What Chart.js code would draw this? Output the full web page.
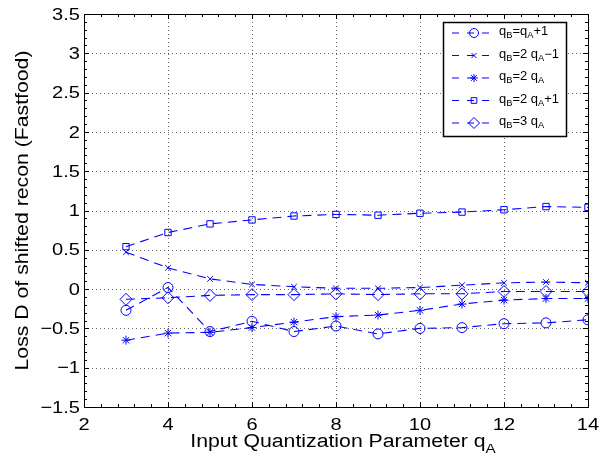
<!DOCTYPE html>
<html>
<head>
<meta charset="UTF-8">
<script src="https://cdn.jsdelivr.net/npm/chart.js"></script>
<style>
  body { margin: 0; background: #fff; }
</style>
</head>
<body>
<canvas id="c" width="612" height="459"></canvas>
<script>
const qA = [3, 4, 5, 6, 7, 8, 9, 10, 11, 12, 13, 14];
const plusOne    = [-0.27, 0.02, -0.54, -0.41, -0.54, -0.47, -0.57, -0.50, -0.49, -0.44, -0.43, -0.39];
const twoMinus   = [0.47, 0.27, 0.13, 0.06, 0.03, 0.01, 0.01, 0.02, 0.05, 0.08, 0.09, 0.08];
const twoTimes   = [-0.65, -0.56, -0.55, -0.49, -0.42, -0.35, -0.33, -0.27, -0.19, -0.14, -0.12, -0.12];
const twoPlus    = [0.54, 0.72, 0.83, 0.88, 0.93, 0.95, 0.94, 0.965, 0.98, 1.01, 1.05, 1.04];
const threeTimes = [-0.13, -0.11, -0.08, -0.07, -0.07, -0.06, -0.07, -0.06, -0.06, -0.03, -0.03, -0.03];
const yTicks = [-1.5, -1, -0.5, 0, 0.5, 1, 1.5, 2, 2.5, 3, 3.5];
const xTicks = [2, 4, 6, 8, 10, 12, 14];

// legend labels as [text, isSubscript] pieces
const labels = [
  [["q",0],["B",1],["=q",0],["A",1],["+1",0]],
  [["q",0],["B",1],["=2 q",0],["A",1],["\u22121",0]],
  [["q",0],["B",1],["=2 q",0],["A",1]],
  [["q",0],["B",1],["=2 q",0],["A",1],["+1",0]],
  [["q",0],["B",1],["=3 q",0],["A",1]]
];
const styles = ["circle", "crossRot", "star", "rect", "rectRot"];
const radii = [5, 4, 4.5, 4.5, 6];
const series = [plusOne, twoMinus, twoTimes, twoPlus, threeTimes];

const FONT = "'Liberation Sans', Arial, sans-serif";
const BLUE = "#0000ff";

// draw text pieces with subscripts, stretched by sx; align 0=left,0.5=center,1=right
function drawSub(ctx, parts, x, y, size, align, sx) {
  sx = sx || 1.18; // the reference text is a bit wide
  let w = 0;
  parts.forEach(([t, sub]) => {
    ctx.font = (sub ? size * 0.72 : size) + "px " + FONT;
    w += ctx.measureText(t).width;
  });
  ctx.save();
  ctx.translate(x, y);
  ctx.scale(sx, 1);
  let cx = -w * (align || 0);
  ctx.textAlign = "left";
  parts.forEach(([t, sub]) => {
    ctx.font = (sub ? size * 0.72 : size) + "px " + FONT;
    ctx.fillText(t, cx, sub ? size * 0.32 : 0);
    cx += ctx.measureText(t).width;
  });
  ctx.restore();
}

const extras = {
  id: "extras",
  beforeDatasetsDraw(chart) {
    const ctx = chart.ctx;
    const a = chart.chartArea;
    const xs = chart.scales.x, ys = chart.scales.y;
    ctx.save();
    ctx.strokeStyle = "rgba(0,0,0,0.6)";
    ctx.lineWidth = 1;
    ctx.setLineDash([1, 3]);
    ctx.beginPath();
    xTicks.forEach(v => {
      const px = Math.round(xs.getPixelForValue(v)) + 0.5;
      ctx.moveTo(px, a.bottom); ctx.lineTo(px, a.top);
    });
    yTicks.forEach(v => {
      const py = Math.round(ys.getPixelForValue(v)) + 0.5;
      ctx.moveTo(a.left, py); ctx.lineTo(a.right, py);
    });
    ctx.stroke();
    ctx.restore();
  },
  afterDraw(chart) {
    const ctx = chart.ctx;
    const a = chart.chartArea;
    const xs = chart.scales.x, ys = chart.scales.y;
    ctx.save();
    // box
    ctx.strokeStyle = "#000";
    ctx.lineWidth = 1;
    ctx.strokeRect(a.left + 0.5, a.top + 0.5, a.right - a.left, a.bottom - a.top);
    // inward ticks, major and minor
    ctx.beginPath();
    for (let v = 2; v <= 14.001; v += 0.4) {
      const major = Math.abs(v - Math.round(v / 2) * 2) < 0.01;
      const len = major ? 5 : 3;
      const px = Math.round(xs.getPixelForValue(v)) + 0.5;
      ctx.moveTo(px, a.bottom); ctx.lineTo(px, a.bottom - len);
      ctx.moveTo(px, a.top); ctx.lineTo(px, a.top + len);
    }
    for (let v = -1.5; v <= 3.501; v += 0.1) {
      const major = Math.abs(v * 2 - Math.round(v * 2)) < 0.01;
      const len = major ? 5 : 3;
      const py = Math.round(ys.getPixelForValue(v)) + 0.5;
      ctx.moveTo(a.left, py); ctx.lineTo(a.left + len, py);
      ctx.moveTo(a.right, py); ctx.lineTo(a.right - len, py);
    }
    ctx.stroke();

    // tick labels
    ctx.fillStyle = "#000";
    ctx.textBaseline = "alphabetic";
    xTicks.forEach(v => {
      drawSub(ctx, [[String(v), 0]], xs.getPixelForValue(v), 430, 17, 0.5);
    });
    ctx.textBaseline = "middle";
    yTicks.forEach(v => {
      drawSub(ctx, [[String(v).replace("-", "\u2212"), 0]], 80, ys.getPixelForValue(v) + 1, 17, 1);
    });

    // axis titles
    ctx.textBaseline = "alphabetic";
    drawSub(ctx, [["Input Quantization Parameter q",0],["A",1]], (a.left + a.right) / 2 + 7, 447, 18, 0.5);
    ctx.save();
    ctx.translate(28, (a.top + a.bottom) / 2);
    ctx.rotate(-Math.PI / 2);
    drawSub(ctx, [["Loss D of shifted recon (Fastfood)", 0]], 0, 0, 18, 0.5);
    ctx.restore();

    // legend
    const lx = 443, ly = 22, lw = 123, lh = 114;
    ctx.fillStyle = "#fff";
    ctx.fillRect(lx, ly, lw, lh);
    ctx.strokeStyle = "#000";
    ctx.lineWidth = 1.5;
    ctx.strokeRect(lx + 0.5, ly + 0.5, lw, lh);
    labels.forEach((parts, i) => {
      const y = 33 + i * 22.5;
      ctx.strokeStyle = BLUE;
      ctx.lineWidth = 1;
      ctx.setLineDash([7, 8]);
      ctx.beginPath();
      ctx.moveTo(452, y); ctx.lineTo(497, y);
      ctx.stroke();
      ctx.setLineDash([]);
      ctx.strokeStyle = BLUE;
      ctx.fillStyle = "rgba(0,0,0,0)";
      Chart.helpers.drawPoint(ctx, {
        pointStyle: styles[i], radius: radii[i] - 0.5, borderWidth: 1, rotation: 0
      }, 474, y);
      ctx.fillStyle = "#000";
      ctx.textBaseline = "middle";
      drawSub(ctx, parts, 499, y - 1, 12, 0, 1.08);
    });
    ctx.restore();
  }
};

new Chart(document.getElementById("c"), {
  type: "line",
  data: {
    datasets: series.map((s, i) => ({
      data: qA.map((x, j) => ({ x, y: s[j] })),
      borderColor: BLUE,
      backgroundColor: "rgba(0,0,0,0)",
      pointBorderColor: BLUE,
      pointBackgroundColor: "rgba(0,0,0,0)",
      borderWidth: 1.1,
      borderDash: [9, 6],
      pointStyle: styles[i],
      pointRadius: radii[i],
      pointBorderWidth: 1,
      tension: 0
    }))
  },
  options: {
    responsive: false,
    animation: false,
    events: [],
    layout: { padding: { left: 0, right: 24, top: 14, bottom: 0 } },
    plugins: { legend: { display: false }, tooltip: { enabled: false } },
    scales: {
      x: {
        type: "linear", min: 2, max: 14,
        afterFit: s => { s.height = 52; },
        grid: { display: false },
        border: { display: false },
        ticks: { display: false }
      },
      y: {
        min: -1.5, max: 3.5,
        afterFit: s => { s.width = 84; },
        grid: { display: false },
        border: { display: false },
        ticks: { display: false }
      }
    }
  },
  plugins: [extras]
});
</script>
</body>
</html>
